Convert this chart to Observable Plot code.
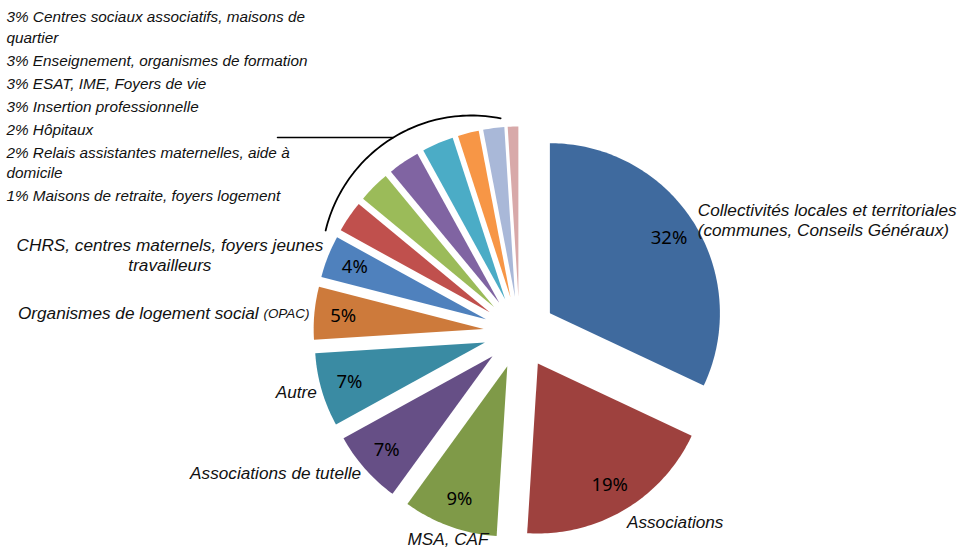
<!DOCTYPE html>
<html><head><meta charset="utf-8">
<script src="https://cdn.jsdelivr.net/npm/d3@7"></script>
<script src="https://cdn.jsdelivr.net/npm/@observablehq/plot@0.6"></script>
<style>html,body{margin:0;padding:0;background:#fff;} #chart svg{display:block;background:#fff;}</style>
</head><body><div id="chart"></div>
<script>
// ---------- data ----------
const categories = [
  "Collectivités locales et territoriales (communes, Conseils Généraux)",
  "Associations",
  "MSA, CAF",
  "Associations de tutelle",
  "Autre",
  "Organismes de logement social (OPAC)",
  "CHRS, centres maternels, foyers jeunes travailleurs",
  "Centres sociaux associatifs, maisons de quartier",
  "Enseignement, organismes de formation",
  "ESAT, IME, Foyers de vie",
  "Insertion professionnelle",
  "Hôpitaux",
  "Relais assistantes maternelles, aide à domicile",
  "Maisons de retraite, foyers logement"
];
const values = [32, 19, 9, 7, 7, 5, 4, 3, 3, 3, 3, 2, 2, 1];
const colors = ["#3F6A9E", "#9E413E", "#7F9A48", "#664F86", "#3A8BA3", "#CD7A3B", "#4F81BD",
                "#C0504D", "#9BBB59", "#8064A2", "#4BACC6", "#F79646", "#A9B8D8", "#D8A9A9"];

// ---------- layout ----------
const W = 964, H = 556;
const K = 170;              // pixels per unit radius
const CX = 519, CY = 332;   // pie centre in pixels
const EXPLODE = 36 / K;
const PCT_R = 0.83, OUT_R = 1.03;
const px = v => (v - CX) / K;
const py = v => (CY - v) / K;
const LABEL_FONT = "'Liberation Sans', Arial, sans-serif";
const PCT_FONT = "'Noto Sans', 'Open Sans', sans-serif";
const OUT_SIZE = 17.2, LIST_SIZE = 15.3, SUFFIX_SIZE = 13.4, PCT_SIZE = 18.5;

const ctx = document.createElement("canvas").getContext("2d");
function measure(t, size) { ctx.font = `italic ${size}px "Liberation Sans"`; return ctx.measureText(t).width; }
function wrap(t, size, maxW) {
  const words = t.split(" "); const lines = []; let cur = "";
  for (const w of words) {
    const test = cur ? cur + " " + w : w;
    if (cur && measure(test, size) > maxW) { lines.push(cur); cur = w; } else cur = test;
  }
  if (cur) lines.push(cur);
  return lines;
}

const slices = d3.pie().sort(null).value(d => d.value)(
  categories.map((c, i) => ({cat: c, value: values[i]}))
);

// slice polygons
const polyPts = [];
const pctLabels = [];
slices.forEach((s, i) => {
  const mid = (s.startAngle + s.endAngle) / 2;
  const ox = EXPLODE * Math.sin(mid), oy = EXPLODE * Math.cos(mid);
  polyPts.push({cat: s.data.cat, x: ox, y: oy});
  const n = Math.max(2, Math.ceil((s.endAngle - s.startAngle) / (Math.PI / 180)));
  for (let j = 0; j <= n; j++) {
    const a = s.startAngle + (s.endAngle - s.startAngle) * j / n;
    polyPts.push({cat: s.data.cat, x: ox + Math.sin(a), y: oy + Math.cos(a)});
  }
  s.mid = mid; s.ox = ox; s.oy = oy;
  if (s.data.value >= 4) pctLabels.push({x: ox + PCT_R * Math.sin(mid), y: oy + PCT_R * Math.cos(mid), text: s.data.value + "%"});
});

// outside category labels (large slices)
const outsideMarks = [];
slices.forEach((s, i) => {
  if (s.data.value < 4) return;
  const sx = Math.sin(s.mid), sy = Math.cos(s.mid);
  let ax = s.ox + OUT_R * sx, ay = s.oy + OUT_R * sy;
  let name = s.data.cat, suffix = null;
  const m = name.match(/^(.*)\s(\([A-Z]+\))$/);
  if (m) { name = m[1]; suffix = m[2]; }
  const lines = wrap(name, OUT_SIZE, 320);
  let textAnchor = sx > 0.4 ? "start" : sx < -0.4 ? "end" : "middle";
  const lineAnchor = sy > 0.7 ? "bottom" : sy < -0.7 ? "top" : "middle";
  if (suffix) {
    const sw = measure(suffix, SUFFIX_SIZE) + measure(" ", OUT_SIZE);
    outsideMarks.push(Plot.text([{x: ax, y: ay, t: suffix}], {x: "x", y: "y", text: "t", textAnchor: "end", lineAnchor,
      dy: 1.5, fontSize: SUFFIX_SIZE, fontStyle: "italic", fontFamily: LABEL_FONT, fill: "#111"}));
    ax -= sw / K;
  }
  if (lines.length > 1 && textAnchor === "end") {
    const mw = d3.max(lines, l => measure(l, OUT_SIZE));
    ax -= mw / 2 / K; textAnchor = "middle";
  }
  outsideMarks.push(Plot.text([{x: ax, y: ay, t: lines.join("\n")}], {x: "x", y: "y", text: "t", textAnchor, lineAnchor,
    lineHeight: 1.17, fontSize: OUT_SIZE, fontStyle: "italic", fontFamily: LABEL_FONT, fill: "#111"}));
});

// list of small slices (top-left)
const listLines = [];
{
  let y = 17;
  slices.forEach(s => {
    if (s.data.value >= 4) return;
    const lines = wrap(`${s.data.value}% ${s.data.cat}`, LIST_SIZE, 310);
    lines.forEach((l, j) => listLines.push({x: px(6), y: py(y + j * 20.5), t: l}));
    y += 23 + (lines.length - 1) * 20.5;
  });
}

// bracket annotation around the small slices
const BR = {cx: -48 / K, cy: 67 / K, r: 150 / K, a0: 283.5, a1: 371.2, lead: 328.6, leadEnd: px(277)};
const bracket = d3.range(0, 61).map(j => {
  const a = (BR.a0 + (BR.a1 - BR.a0) * j / 60) * Math.PI / 180;
  return {x: BR.cx + BR.r * Math.sin(a), y: BR.cy + BR.r * Math.cos(a)};
});
const la = BR.lead * Math.PI / 180;
const leadY = BR.cy + BR.r * Math.cos(la);
const leader = [{x: BR.cx + BR.r * Math.sin(la), y: leadY}, {x: BR.leadEnd, y: leadY}];

const chart = Plot.plot({
  width: W, height: H, margin: 0,
  x: {domain: [px(0), px(W)], axis: null},
  y: {domain: [py(H), py(0)], axis: null},
  color: {domain: categories, range: colors},
  style: {background: "#fff"},
  marks: [
    Plot.line(polyPts, {x: "x", y: "y", z: "cat", fill: "cat", stroke: "none"}),
    Plot.line(bracket, {x: "x", y: "y", stroke: "#000", strokeWidth: 1.8}),
    Plot.line(leader, {x: "x", y: "y", stroke: "#000", strokeWidth: 1.5}),
    Plot.text(pctLabels, {x: "x", y: "y", text: "text", fontSize: PCT_SIZE, fontFamily: PCT_FONT, fill: "#000"}),
    ...outsideMarks,
    Plot.text(listLines, {x: "x", y: "y", text: "t", textAnchor: "start", fontSize: LIST_SIZE, fontStyle: "italic",
      fontFamily: LABEL_FONT, fill: "#111"})
  ]
});
document.getElementById("chart").appendChild(chart);
</script>
</body></html>
